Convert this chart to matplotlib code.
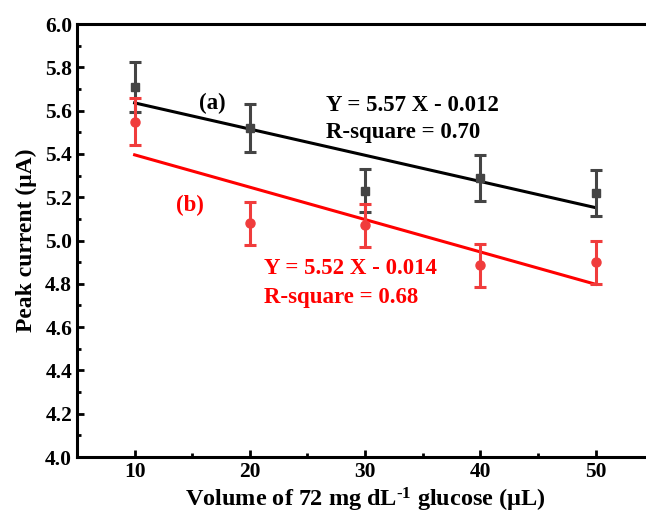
import numpy as np
import matplotlib
matplotlib.use('Agg')
import matplotlib.pyplot as plt
from matplotlib.ticker import MultipleLocator

plt.rcParams['font.family'] = 'Liberation Serif'
plt.rcParams['font.weight'] = 'bold'
plt.rcParams['mathtext.fontset'] = 'custom'
plt.rcParams['mathtext.rm'] = 'Liberation Serif:bold'
plt.rcParams['mathtext.default'] = 'rm'

# data
volume = [10, 20, 30, 40, 50]
current_a = [5.71, 5.52, 5.23, 5.29, 5.22]
err_a = [0.115, 0.11, 0.10, 0.105, 0.105]
current_b = [5.55, 5.08, 5.07, 4.885, 4.90]
err_b = [0.11, 0.10, 0.10, 0.10, 0.10]

fig = plt.figure(figsize=(6.46, 5.16), dpi=100)
ax = fig.add_axes([0.1192, 0.1143, 0.892, 0.839])

x = np.array(volume)
# linear fits
for y, col in [(current_a, 'black'), (current_b, 'red')]:
    k, b = np.polyfit(x, y, 1)
    ax.plot(x, k * x + b, color=col, lw=2.2, zorder=2)

ax.errorbar(volume, current_a, yerr=err_a, fmt='s', color='#444444', ms=6,
            elinewidth=2.2, capsize=4.5, capthick=2.2, zorder=3)
ax.errorbar(volume, current_b, yerr=err_b, fmt='o', color='#f03c3c', ms=6.5,
            elinewidth=2.2, capsize=4.5, capthick=2.2, zorder=3)

fs = 16.5
ax.text(16.7, 5.635, '(a)', fontsize=fs, fontweight='bold', ha='center', va='center')
ax.text(26.6, 5.626, 'Y = 5.57 X - 0.012', fontsize=fs, fontweight='bold', va='center')
ax.text(26.6, 5.497, 'R-square = 0.70', fontsize=fs, fontweight='bold', va='center')
ax.text(14.8, 5.164, '(b)', fontsize=fs, fontweight='bold', ha='center', va='center', color='red')
ax.text(21.2, 4.873, 'Y = 5.52 X - 0.014', fontsize=fs, fontweight='bold', va='center', color='red')
ax.text(21.2, 4.739, 'R-square = 0.68', fontsize=fs, fontweight='bold', va='center', color='red')

ax.set_xlim(5, 55)
ax.set_ylim(4.0, 6.0)
ax.xaxis.set_major_locator(MultipleLocator(10))
ax.xaxis.set_minor_locator(MultipleLocator(5))
ax.yaxis.set_minor_locator(MultipleLocator(0.1))
ax.set_yticks(np.arange(4.0, 6.01, 0.2))
ax.set_yticklabels([f'{v:.1f}' for v in np.arange(4.0, 6.01, 0.2)])
ax.tick_params(which='both', direction='in', width=2, labelsize=15.5)
ax.tick_params(which='major', length=5)
ax.tick_params(which='minor', length=3)
for s in ax.spines.values():
    s.set_linewidth(2.2)

ax.set_xlabel('Volume of 72 mg dL$^{\\text{-1}}$ glucose (\u03bcL)', fontsize=17.5, fontweight='bold', labelpad=3)
ax.set_ylabel('Peak current (\u03bcA)', fontsize=17, fontweight='bold', labelpad=6)

plt.savefig('out.png', dpi=100)
